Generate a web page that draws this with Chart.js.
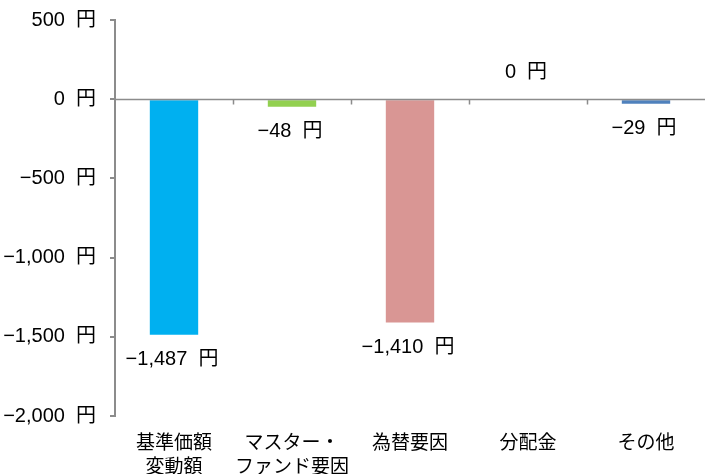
<!DOCTYPE html>
<html>
<head>
<meta charset="utf-8">
<script src="https://cdn.jsdelivr.net/npm/chart.js@4.4.1/dist/chart.umd.min.js"></script>
<style>
  html, body { margin: 0; padding: 0; background: #fff; }
  #wrap { width: 705px; height: 474px; }
</style>
</head>
<body>
<div id="wrap"><canvas id="myChart"></canvas></div>
<script>
// 基準価額の変動要因
const categories = [['基準価額', '変動額'], ['マスター・', 'ファンド要因'], '為替要因', '分配金', 'その他'];
const values = [-1487, -48, -1410, 0, -29];
const barColors = ['#00B0F0', '#92D050', '#D99694', '#4F81BD', '#4F81BD'];
const yMin = -2000;
const yMax = 500;
const yStep = 500;

const FONT = "'Liberation Sans', 'Noto Sans CJK JP', sans-serif";

function yen(v) {
    var s = Math.abs(v).toLocaleString('en-US');
    return (v < 0 ? '\u2212' : '') + s + '  円';
}

// ラベルのはみ出し分でプロット領域をずらさない
function noOverflow(scale) {
    scale.paddingTop = 0;
    scale.paddingBottom = 0;
    scale.paddingLeft = 0;
    scale.paddingRight = 0;
}

// ゼロ線と区切りの目盛り
const zeroLine = {
    id: 'zeroLine',
    afterDatasetsDraw(chart) {
        const ctx = chart.ctx;
        const y = Math.round(chart.scales.y.getPixelForValue(0)) + 0.5;
        const area = chart.chartArea;
        const x = chart.scales.x;
        ctx.save();
        ctx.strokeStyle = '#8c8c8c';
        ctx.lineWidth = 1.5;
        ctx.beginPath();
        ctx.moveTo(area.left, y);
        ctx.lineTo(area.right, y);
        for (let i = 1; i < categories.length; i++) {
            const bx = Math.round((x.getPixelForValue(i - 1) + x.getPixelForValue(i)) / 2) + 0.5;
            ctx.moveTo(bx, y);
            ctx.lineTo(bx, y + 5);
        }
        ctx.stroke();
        ctx.restore();
    }
};

// 棒の値ラベル
const valueLabels = {
    id: 'valueLabels',
    afterDatasetsDraw(chart) {
        const ctx = chart.ctx;
        const meta = chart.getDatasetMeta(0);
        ctx.save();
        ctx.font = '20px ' + FONT;
        ctx.fillStyle = '#000';
        ctx.textAlign = 'center';
        ctx.textBaseline = 'middle';
        meta.data.forEach(function (bar, i) {
            const v = values[i];
            const ly = v < 0 ? bar.y + 25 : bar.y - 27;
            ctx.fillText(yen(v), bar.x - 2, ly);
        });
        ctx.restore();
    }
};

const myChart = new Chart(document.getElementById('myChart'), {
    type: 'bar',
    data: {
        labels: categories,
        datasets: [{
            data: values,
            backgroundColor: barColors,
            borderWidth: 0,
            categoryPercentage: 1,
            barPercentage: 0.41
        }]
    },
    options: {
        responsive: true,
        maintainAspectRatio: false,
        animation: false,
        layout: { padding: { top: 20, right: 0, left: 0, bottom: 0 } },
        plugins: {
            legend: { display: false },
            tooltip: { enabled: false }
        },
        scales: {
            x: {
                grid: { display: false },
                border: { display: false },
                ticks: {
                    color: '#000',
                    font: { family: FONT, size: 19, lineHeight: 1.25 },
                    padding: 8,
                    maxRotation: 0,
                    autoSkip: false
                },
                afterFit(scale) { scale.height = 58; noOverflow(scale); }
            },
            y: {
                min: yMin,
                max: yMax,
                grid: {
                    drawOnChartArea: false,
                    drawTicks: true,
                    tickLength: 5,
                    color: '#8c8c8c',
                    lineWidth: 2
                },
                border: { display: true, color: '#8c8c8c', width: 2 },
                ticks: {
                    stepSize: yStep,
                    color: '#000',
                    font: { family: FONT, size: 20 },
                    padding: 14,
                    callback: function (v) { return yen(v); }
                },
                afterFit(scale) { scale.width = 115; noOverflow(scale); }
            }
        }
    },
    plugins: [zeroLine, valueLabels]
});
</script>
</body>
</html>
